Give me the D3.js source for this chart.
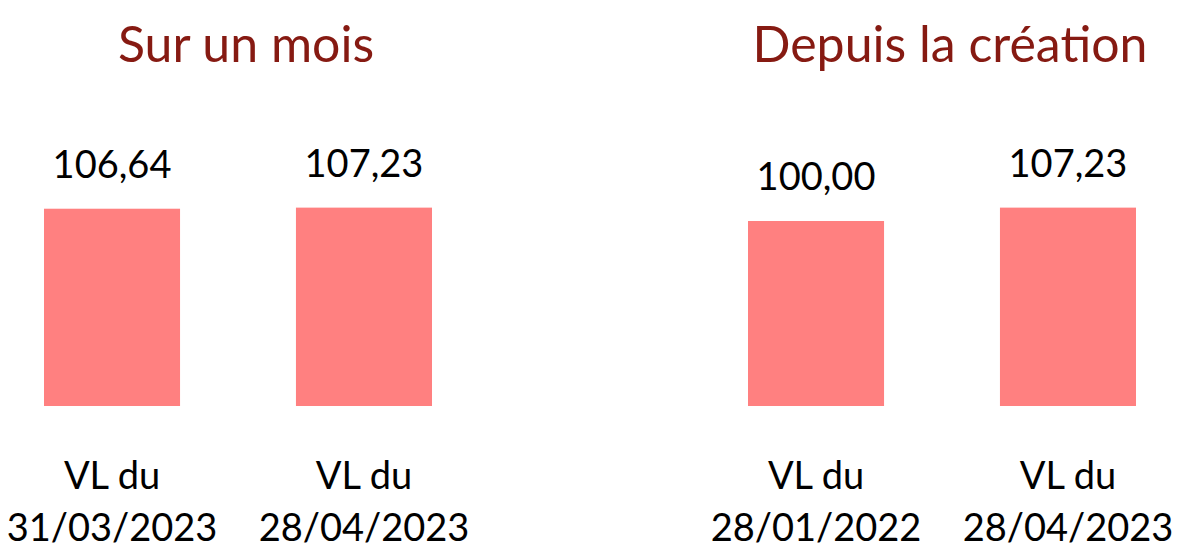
<!DOCTYPE html>
<html>
<head>
<meta charset="utf-8">
<script src="https://cdn.jsdelivr.net/npm/d3@7"></script>
<style>
  html, body { margin: 0; padding: 0; background: #fff; }
  svg { display: block; }
  text { font-family: Lato, "Open Sans", sans-serif; }
</style>
</head>
<body>
<svg id="chart" width="1184" height="543"></svg>
<script>
// Data
const panelTitles = ["Sur un mois", "Depuis la création"];
const panel1Categories = ["VL du|31/03/2023", "VL du|28/04/2023"];
const panel1Values = [106.64, 107.23];
const panel2Categories = ["VL du|28/01/2022", "VL du|28/04/2023"];
const panel2Values = [100.00, 107.23];

const W = 1184, H = 543;
const svg = d3.select("#chart");
const barColor = "#FF8080";
const titleColor = "#861A12";

const y = d3.scaleLinear().domain([0, 110]).range([406, 406 - 110 * 1.85]);
const fmt = v => d3.format(".2f")(v).replace(".", ",");

const panels = [
  { title: panelTitles[0], cats: panel1Categories, vals: panel1Values, range: [44, 432] },
  { title: panelTitles[1], cats: panel2Categories, vals: panel2Values, range: [748, 1136] }
];

panels.forEach(p => {
  const x = d3.scaleBand().domain(p.cats).range(p.range).paddingInner(0.46).paddingOuter(0);
  const g = svg.append("g");
  const cx = (p.range[0] + p.range[1]) / 2 + 8;
  g.append("text")
    .attr("x", cx).attr("y", 62)
    .attr("text-anchor", "middle")
    .attr("font-size", 50)
    .attr("fill", titleColor)
    .text(p.title);

  const data = p.cats.map((c, i) => ({ c, v: p.vals[i] }));
  g.selectAll("rect").data(data).join("rect")
    .attr("x", d => x(d.c))
    .attr("y", d => y(d.v))
    .attr("width", x.bandwidth())
    .attr("height", d => y(0) - y(d.v))
    .attr("fill", barColor);

  g.selectAll("text.val").data(data).join("text")
    .attr("class", "val")
    .attr("x", d => x(d.c) + x.bandwidth() / 2)
    .attr("y", d => y(d.v) - 31)
    .attr("text-anchor", "middle")
    .attr("font-size", 38)
    .attr("fill", "#000")
    .text(d => fmt(d.v));

  const lab = g.selectAll("text.cat").data(data).join("text")
    .attr("class", "cat")
    .attr("text-anchor", "middle")
    .attr("font-size", 38)
    .attr("fill", "#000");
  lab.each(function(d) {
    const parts = d.c.split("|");
    const t = d3.select(this);
    parts.forEach((s, i) => {
      t.append("tspan")
        .attr("x", x(d.c) + x.bandwidth() / 2)
        .attr("y", 489 + i * 52)
        .text(s);
    });
  });
});
</script>
</body>
</html>
